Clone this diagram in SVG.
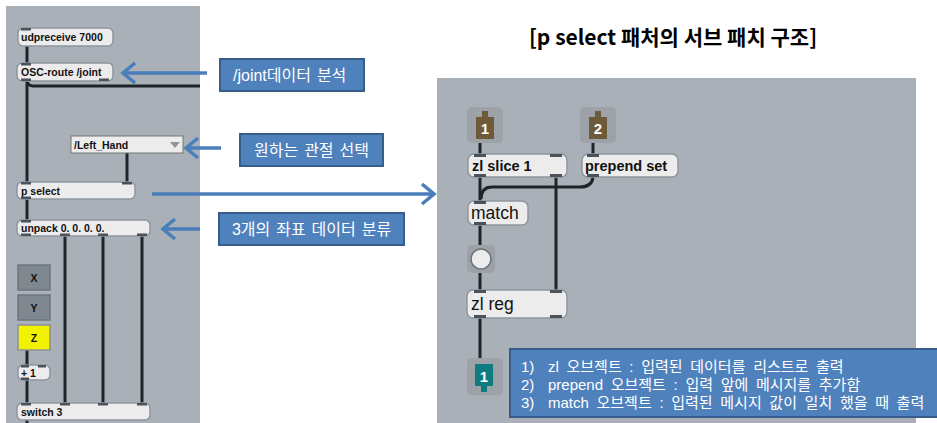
<svg xmlns="http://www.w3.org/2000/svg" width="937" height="423" viewBox="0 0 937 423">
<style>
.panel{fill:#a9b0b7}
.obj{fill:#ececec;stroke:#8d969e;stroke-width:1.5}
.tab{fill:#4a535c}
.t{font-family:"Liberation Sans",Arial,sans-serif;font-weight:bold;font-size:10.5px;fill:#111}
.tr{font-family:"Liberation Sans",Arial,sans-serif;font-weight:bold;font-size:14.5px;fill:#111}
.tm{font-family:"Liberation Sans",Arial,sans-serif;font-size:17.5px;fill:#111}
.cord{stroke:#1f242a;stroke-width:3;fill:none}
.blue{fill:#4f81bd;stroke:#385d8a;stroke-width:2}
.bt{font-family:"Liberation Sans","Noto Sans CJK KR",sans-serif;font-size:16px;word-spacing:1.5px;fill:#fff}
.ct{font-family:"Liberation Sans","Noto Sans CJK KR",sans-serif;font-size:15px;word-spacing:3.5px;fill:#fff}
.arr{stroke:#4a7ebb;stroke-width:3.5;fill:none}
.tg{fill:#7f878f;stroke:#6d757d;stroke-width:1.5}
</style>
<defs>
<marker id="ah" markerUnits="userSpaceOnUse" markerWidth="20" markerHeight="24" refX="15" refY="12" orient="auto">
<polyline points="3,2 15,12 3,22" fill="none" stroke="#4a7ebb" stroke-width="3.5"/>
</marker>
</defs>
<rect width="937" height="423" fill="#fff"/>
<rect class="panel" x="6" y="6" width="194" height="417"/>
<rect class="panel" x="437" y="78" width="479" height="345"/>

<g id="connectors">
<line class="cord" x1="27" y1="46" x2="27" y2="63"/>
<path class="cord" d="M27,81 L27,182"/>
<path class="cord" d="M27,81 Q28,86 33,86 L200,86"/>
<line class="cord" x1="127" y1="153" x2="127" y2="182"/>
<line class="cord" x1="27" y1="199" x2="27" y2="220"/>
<line class="cord" x1="65" y1="236" x2="65" y2="403"/>
<line class="cord" x1="103" y1="236" x2="103" y2="403"/>
<line class="cord" x1="142" y1="236" x2="142" y2="403"/>
<line class="cord" x1="27" y1="350" x2="27" y2="365"/>
<line class="cord" x1="27" y1="380" x2="27" y2="403"/>
<line class="cord" x1="27" y1="420" x2="27" y2="423"/>
<line class="cord" x1="480" y1="143" x2="480" y2="154"/>
<line class="cord" x1="593" y1="143" x2="593" y2="154"/>
<line class="cord" x1="480" y1="177" x2="480" y2="201"/>
<path class="cord" d="M593,177 Q592,187 580,187 L492,187 Q481,187 481,199"/>
<line class="cord" x1="556" y1="177" x2="556" y2="290"/>
<line class="cord" x1="480" y1="225" x2="480" y2="249"/>
<line class="cord" x1="480" y1="269" x2="480" y2="290"/>
<line class="cord" x1="480" y1="318" x2="480" y2="358"/>
<line class="arr" x1="207" y1="73" x2="123" y2="73" marker-end="url(#ah)"/>
<line class="arr" x1="221" y1="148" x2="186" y2="148" marker-end="url(#ah)"/>
<line class="arr" x1="152" y1="194" x2="434" y2="194" marker-end="url(#ah)"/>
<line class="arr" x1="200" y1="229" x2="163" y2="229" marker-end="url(#ah)"/>
</g>

<g id="udpreceive">
<rect class="obj" x="18" y="28" width="95" height="18" rx="5"/>
<rect class="tab" x="21" y="28" width="10" height="2.5"/>
<text class="t" x="21" y="41">udpreceive 7000</text>
</g>
<g id="oscroute">
<rect class="obj" x="17" y="63" width="96" height="18" rx="5"/>
<rect class="tab" x="21" y="63" width="10" height="2.5"/>
<rect class="tab" x="21" y="78.5" width="10" height="2.5"/>
<rect class="tab" x="99" y="78.5" width="10" height="2.5"/>
<text class="t" x="21" y="76">OSC-route /joint</text>
</g>
<g id="lefthand">
<rect x="71" y="136" width="112" height="17" fill="#ececec" stroke="#777" stroke-width="1"/>
<polygon points="170,142 180,142 175,148" fill="#8f959b"/>
<text class="t" x="74" y="148.5">/Left_Hand</text>
</g>
<g id="pselect">
<rect class="obj" x="17" y="182" width="118" height="17" rx="5"/>
<rect class="tab" x="21" y="182" width="10" height="2.5"/>
<rect class="tab" x="122" y="182" width="10" height="2.5"/>
<rect class="tab" x="21" y="196.5" width="10" height="2.5"/>
<text class="t" x="21" y="195">p select</text>
</g>
<g id="unpack">
<rect class="obj" x="17" y="220" width="133" height="16" rx="5"/>
<rect class="tab" x="21" y="220" width="10" height="2.5"/>
<rect class="tab" x="21" y="233.5" width="10" height="2.5"/>
<rect class="tab" x="60" y="233.5" width="10" height="2.5"/>
<rect class="tab" x="98" y="233.5" width="10" height="2.5"/>
<rect class="tab" x="137" y="233.5" width="10" height="2.5"/>
<text class="t" x="21" y="232">unpack 0. 0. 0. 0.</text>
</g>
<g id="btnX">
<rect class="tg" x="18" y="265" width="32" height="25"/>
<text class="t" x="34" y="282" text-anchor="middle">X</text>
</g>
<g id="btnY">
<rect class="tg" x="18" y="295" width="32" height="25"/>
<text class="t" x="34" y="312" text-anchor="middle">Y</text>
</g>
<g id="btnZ">
<rect x="18" y="325" width="32" height="25" fill="#f2f200" stroke="#8a9096" stroke-width="1.5"/>
<text class="t" x="34" y="342" text-anchor="middle">Z</text>
</g>
<g id="plus1">
<rect class="obj" x="18" y="365" width="32" height="15" rx="5"/>
<rect class="tab" x="21" y="365" width="8" height="2.5"/>
<rect class="tab" x="38" y="365" width="8" height="2.5"/>
<rect class="tab" x="21" y="377.5" width="8" height="2.5"/>
<text class="t" x="21" y="376.5">+ 1</text>
</g>
<g id="switch">
<rect class="obj" x="17" y="403" width="133" height="17" rx="5"/>
<rect class="tab" x="21" y="403" width="10" height="2.5"/>
<rect class="tab" x="60" y="403" width="10" height="2.5"/>
<rect class="tab" x="98" y="403" width="10" height="2.5"/>
<rect class="tab" x="137" y="403" width="10" height="2.5"/>
<text class="t" x="21" y="415.5">switch 3</text>
</g>

<g id="note-joint">
<rect class="blue" x="220" y="59" width="144" height="32"/>
<text class="bt" x="233" y="81">/joint데이터 분석</text>
</g>
<g id="note-select">
<rect class="blue" x="240" y="134" width="143" height="32"/>
<text class="bt" x="311.5" y="156" text-anchor="middle">원하는 관절 선택</text>
</g>
<g id="note-unpack">
<rect class="blue" x="219" y="213" width="185" height="32"/>
<text class="bt" x="311.5" y="235" text-anchor="middle">3개의 좌표 데이터 분류</text>
</g>

<text x="673" y="45" text-anchor="middle" font-family="'Noto Sans CJK KR',sans-serif" font-weight="bold" font-size="21px" fill="#000">[p select 패처의 서브 패치 구조]</text>

<g id="inlet1">
<rect x="467" y="107" width="36" height="36" rx="5" fill="#9ca2a8"/>
<path d="M476,117 L482,117 L482,111 L488,111 L488,117 L494,117 L494,139 L476,139 Z" fill="#6e5a38"/>
<text x="485" y="134" text-anchor="middle" font-family="'Liberation Sans',sans-serif" font-weight="bold" font-size="15px" fill="#fff">1</text>
</g>
<g id="inlet2">
<rect x="580" y="107" width="36" height="36" rx="5" fill="#9ca2a8"/>
<path d="M589,117 L595,117 L595,111 L601,111 L601,117 L607,117 L607,139 L589,139 Z" fill="#6e5a38"/>
<text x="598" y="134" text-anchor="middle" font-family="'Liberation Sans',sans-serif" font-weight="bold" font-size="15px" fill="#fff">2</text>
</g>
<g id="zlslice">
<rect class="obj" x="468" y="154" width="99" height="23" rx="6"/>
<rect class="tab" x="474" y="154" width="12" height="3"/>
<rect class="tab" x="550" y="154" width="12" height="3"/>
<rect class="tab" x="474" y="174" width="12" height="3"/>
<rect class="tab" x="550" y="174" width="12" height="3"/>
<text class="tr" x="472" y="171">zl slice 1</text>
</g>
<g id="prepend">
<rect class="obj" x="582" y="154" width="96" height="23" rx="6"/>
<rect class="tab" x="587" y="154" width="12" height="3"/>
<rect class="tab" x="587" y="174" width="12" height="3"/>
<text class="tr" x="585" y="171">prepend set</text>
</g>
<g id="match">
<rect class="obj" x="468" y="201" width="60" height="24" rx="6"/>
<rect class="tab" x="474" y="201" width="12" height="3"/>
<rect class="tab" x="474" y="222" width="12" height="3"/>
<text class="tm" x="471" y="219">match</text>
</g>
<g id="button">
<rect x="467" y="245" width="28" height="28" rx="5" fill="#9ca2a8"/>
<circle cx="481" cy="259" r="10" fill="#ececec" stroke="#6a7279" stroke-width="1.5"/>
</g>
<g id="zlreg">
<rect class="obj" x="467" y="290" width="100" height="28" rx="6"/>
<rect class="tab" x="474" y="290" width="12" height="3"/>
<rect class="tab" x="550" y="290" width="12" height="3"/>
<rect class="tab" x="474" y="315" width="12" height="3"/>
<rect class="tab" x="550" y="315" width="12" height="3"/>
<text class="tm" x="471" y="310">zl reg</text>
</g>
<g id="outlet1">
<rect x="467" y="358" width="36" height="37" rx="5" fill="#9ca2a8"/>
<path d="M475,364 L493,364 L493,386 L487,386 L487,392 L481,392 L481,386 L475,386 Z" fill="#0e7b80"/>
<text x="484" y="382" text-anchor="middle" font-family="'Liberation Sans',sans-serif" font-weight="bold" font-size="15px" fill="#fff">1</text>
</g>
<g id="note-sub">
<rect class="blue" x="510" y="349" width="430" height="68"/>
<text class="ct" x="521" y="372">1)</text>
<text class="ct" x="548" y="372">zl 오브젝트 : 입력된 데이터를 리스트로 출력</text>
<text class="ct" x="521" y="390">2)</text>
<text class="ct" x="548" y="390">prepend 오브젝트 : 입력 앞에 메시지를 추가함</text>
<text class="ct" x="521" y="408">3)</text>
<text class="ct" x="548" y="408">match 오브젝트 : 입력된 메시지 값이 일치 했을 때 출력</text>
</g>
</svg>
